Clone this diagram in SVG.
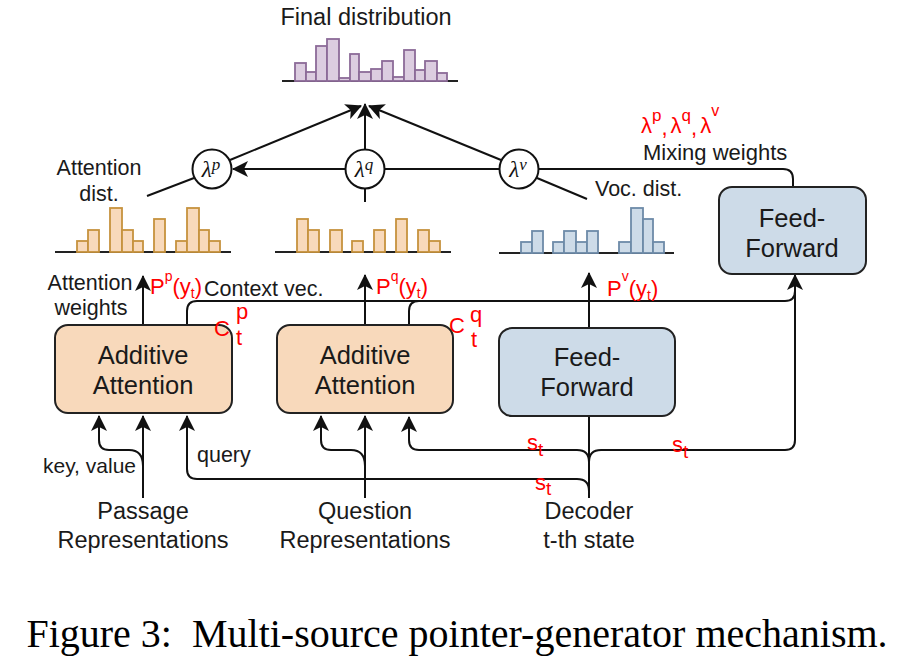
<svg xmlns="http://www.w3.org/2000/svg" width="914" height="656" viewBox="0 0 914 656">
<style>
.t{font-family:"Liberation Sans",Arial,sans-serif;fill:#1a1a1a}
.box{stroke:#222;stroke-width:2}
.pe{fill:#f8d9bb}
.bl{fill:#cddbe8}
.ln{fill:none;stroke:#111;stroke-width:2}
.ax{stroke:#222;stroke-width:2}
.ho rect{fill:#f8d9bb;stroke:#c6923e;stroke-width:1.8}
.hb rect{fill:#cddbe8;stroke:#6d8aa8;stroke-width:1.8}
.hp rect{fill:#dccde0;stroke:#8c6b98;stroke-width:1.8}
.lam{fill:#fff;stroke:#111;stroke-width:2}
.lt{font-family:"Liberation Serif","Times New Roman",serif;font-style:italic;font-size:23px;fill:#111}
.red{font-family:"Liberation Sans",Arial,sans-serif;fill:#f00;font-size:22px}
</style>
<defs>
<marker id="arr" viewBox="0 0 16 16" refX="15" refY="8" markerWidth="16" markerHeight="16" markerUnits="userSpaceOnUse" orient="auto">
<path d="M0,0 L16,8 L0,16 L4,8 z" fill="#111"/>
</marker>
</defs>
<rect width="914" height="656" fill="#fff"/>

<g id="final-dist">
<text class="t" x="366" y="25" font-size="23.5" text-anchor="middle">Final distribution</text>
<line class="ax" x1="282" y1="81" x2="458" y2="81"/>
<g class="hp">
<rect x="295" y="63" width="11" height="18"/>
<rect x="306" y="72" width="10" height="9"/>
<rect x="316" y="46" width="11" height="35"/>
<rect x="327" y="39" width="12" height="42"/>
<rect x="339" y="78" width="11" height="3"/>
<rect x="350" y="54" width="9" height="27"/>
<rect x="359" y="72" width="12" height="9"/>
<rect x="371" y="69" width="11" height="12"/>
<rect x="382" y="61" width="11" height="20"/>
<rect x="393" y="77" width="11" height="4"/>
<rect x="404" y="50" width="11" height="31"/>
<rect x="415" y="70" width="10" height="11"/>
<rect x="425" y="61" width="12" height="20"/>
<rect x="437" y="73" width="10" height="8"/>
</g>
</g>

<g id="attention-dist">
<text class="t" x="99" y="175" font-size="21.5" text-anchor="middle">Attention</text>
<text class="t" x="99" y="201" font-size="21.5" text-anchor="middle">dist.</text>
<line class="ax" x1="55" y1="252" x2="231" y2="252"/>
<g class="ho">
<rect x="77" y="241" width="11" height="11"/>
<rect x="88" y="230" width="11" height="22"/>
<rect x="110" y="208" width="12" height="44"/>
<rect x="122" y="230" width="11" height="22"/>
<rect x="133" y="241" width="10" height="11"/>
<rect x="154" y="219" width="11" height="33"/>
<rect x="176" y="241" width="11" height="11"/>
<rect x="187" y="208" width="12" height="44"/>
<rect x="199" y="230" width="10" height="22"/>
<rect x="209" y="241" width="11" height="11"/>
</g>
</g>

<g id="question-dist">
<line class="ax" x1="275" y1="252" x2="451" y2="252"/>
<g class="ho">
<rect x="297" y="219" width="11" height="33"/>
<rect x="308" y="230" width="11" height="22"/>
<rect x="330" y="230" width="12" height="22"/>
<rect x="352" y="241" width="11" height="11"/>
<rect x="374" y="230" width="11" height="22"/>
<rect x="396" y="219" width="11" height="33"/>
<rect x="418" y="230" width="11" height="22"/>
<rect x="429" y="241" width="11" height="11"/>
</g>
</g>

<g id="voc-dist">
<text class="t" x="595" y="196" font-size="21.5">Voc. dist.</text>
<line class="ax" x1="499" y1="253" x2="674" y2="253"/>
<g class="hb">
<rect x="521" y="242" width="11" height="11"/>
<rect x="532" y="231" width="11" height="22"/>
<rect x="553" y="242" width="11" height="11"/>
<rect x="564" y="231" width="12" height="22"/>
<rect x="576" y="242" width="11" height="11"/>
<rect x="587" y="231" width="11" height="22"/>
<rect x="619" y="242" width="12" height="11"/>
<rect x="631" y="208" width="12" height="45"/>
<rect x="643" y="219" width="10" height="34"/>
<rect x="653" y="242" width="11" height="11"/>
</g>
</g>

<g id="connectors">
<path class="ln" d="M345,169 L233,169" marker-end="url(#arr)"/>
<path class="ln" d="M385,169 L499,169"/>
<path class="ln" d="M539,169 L783,169 Q793,169 793,179 L793,187"/>
<path class="ln" d="M230,160 L361,106" marker-end="url(#arr)"/>
<path class="ln" d="M365,149 L365,104" marker-end="url(#arr)"/>
<path class="ln" d="M501,160 L369,106" marker-end="url(#arr)"/>
<path class="ln" d="M194,178 L147,196"/>
<path class="ln" d="M537,178 L587,199"/>
<path class="ln" d="M365,189 L365,202"/>

<path class="ln" d="M143,325 L143,276" marker-end="url(#arr)"/>
<path class="ln" d="M365,325 L365,275" marker-end="url(#arr)"/>
<path class="ln" d="M589,328 L589,273" marker-end="url(#arr)"/>
<path class="ln" d="M187,325 L187,311 Q187,301 197,301 L785,301 Q795,301 795,291"/>
<path class="ln" d="M409,325 L409,311 Q409,301 419,301"/>

<path class="ln" d="M589,498 L589,416"/>
<path class="ln" d="M589,462 Q589,450 577,450 L419,450 Q409,450 409,440 L409,417" marker-end="url(#arr)"/>
<path class="ln" d="M589,462 Q589,450 601,450 L785,450 Q795,450 795,440 L795,275" marker-end="url(#arr)"/>
<path class="ln" d="M589,491 Q589,479 577,479 L197,479 Q187,479 187,469 L187,416" marker-end="url(#arr)"/>

<path class="ln" d="M143,498 L143,416" marker-end="url(#arr)"/>
<path class="ln" d="M143,466 Q143,450 129,450 L109,450 Q99,450 99,440 L99,416" marker-end="url(#arr)"/>
<path class="ln" d="M365,498 L365,416" marker-end="url(#arr)"/>
<path class="ln" d="M365,466 Q365,450 351,450 L331,450 Q321,450 321,440 L321,416" marker-end="url(#arr)"/>
</g>

<g id="lambda-p">
<circle class="lam" cx="212" cy="169" r="19.5"/>
<text class="lt" x="211" y="177" text-anchor="middle">λ<tspan dy="-7" font-size="17">p</tspan></text>
</g>
<g id="lambda-q">
<circle class="lam" cx="365" cy="169" r="19.5"/>
<text class="lt" x="364" y="177" text-anchor="middle">λ<tspan dy="-7" font-size="17">q</tspan></text>
</g>
<g id="lambda-v">
<circle class="lam" cx="519" cy="169" r="19.5"/>
<text class="lt" x="518" y="177" text-anchor="middle">λ<tspan dy="-7" font-size="17">v</tspan></text>
</g>

<g id="mixing-label">
<text class="t" x="643" y="160" font-size="22">Mixing weights</text>
</g>

<g id="ff-top">
<rect class="box bl" x="719" y="187" width="147" height="87" rx="13"/>
<text class="t" x="792" y="227" font-size="25.5" text-anchor="middle">Feed-</text>
<text class="t" x="792" y="257" font-size="25.5" text-anchor="middle">Forward</text>
</g>

<g id="attn-labels">
<text class="t" x="90" y="290" font-size="21.5" text-anchor="middle">Attention</text>
<text class="t" x="91" y="315" font-size="21.5" text-anchor="middle">weights</text>
<text class="t" x="204" y="296" font-size="21.5">Context vec.</text>
</g>

<g id="add-attn-p">
<rect class="box pe" x="55" y="325" width="177" height="88" rx="13"/>
<text class="t" x="143" y="364" font-size="25.5" text-anchor="middle">Additive</text>
<text class="t" x="143" y="394" font-size="25.5" text-anchor="middle">Attention</text>
</g>
<g id="add-attn-q">
<rect class="box pe" x="277" y="325" width="176" height="88" rx="13"/>
<text class="t" x="365" y="364" font-size="25.5" text-anchor="middle">Additive</text>
<text class="t" x="365" y="394" font-size="25.5" text-anchor="middle">Attention</text>
</g>
<g id="ff-bottom">
<rect class="box bl" x="499" y="328" width="176" height="88" rx="13"/>
<text class="t" x="587" y="366" font-size="25.5" text-anchor="middle">Feed-</text>
<text class="t" x="587" y="396" font-size="25.5" text-anchor="middle">Forward</text>
</g>

<g id="input-labels">
<text class="t" x="43" y="473" font-size="21">key, value</text>
<text class="t" x="197" y="462" font-size="21.5">query</text>
</g>

<g id="passage">
<text class="t" x="143" y="519" font-size="23.5" text-anchor="middle">Passage</text>
<text class="t" x="143" y="548" font-size="23.5" text-anchor="middle">Representations</text>
</g>
<g id="question">
<text class="t" x="365" y="519" font-size="23.5" text-anchor="middle">Question</text>
<text class="t" x="365" y="548" font-size="23.5" text-anchor="middle">Representations</text>
</g>
<g id="decoder">
<text class="t" x="589" y="519" font-size="23.5" text-anchor="middle">Decoder</text>
<text class="t" x="589" y="548" font-size="23.5" text-anchor="middle">t-th state</text>
</g>

<g id="annotations">
<text class="red" x="641" y="133" font-size="24">λ<tspan dy="-12" font-size="17">p</tspan><tspan dy="14">,</tspan><tspan dx="3" dy="-2">λ</tspan><tspan dy="-12" font-size="17">q</tspan><tspan dy="14">,</tspan><tspan dx="3" dy="-2">λ</tspan><tspan dy="-17" font-size="16">v</tspan></text>
<text class="red" x="150" y="294" font-size="21">P<tspan dy="-13" font-size="14">p</tspan><tspan dy="13">(y</tspan><tspan dy="4" font-size="14">t</tspan><tspan dy="-4">)</tspan></text>
<text class="red" x="376" y="294" font-size="21">P<tspan dy="-13" font-size="14">q</tspan><tspan dy="13">(y</tspan><tspan dy="4" font-size="14">t</tspan><tspan dy="-4">)</tspan></text>
<text class="red" x="607" y="296" font-size="21">P<tspan dy="-15" font-size="14">v</tspan><tspan dy="15">(y</tspan><tspan dy="4" font-size="14">t</tspan><tspan dy="-4">)</tspan></text>
<text class="red" x="214" y="336" font-size="26">C</text>
<text class="red" x="236" y="319" font-size="16">p</text>
<text class="red" x="236" y="345" font-size="16">t</text>
<text class="red" x="449" y="333" font-size="22">C</text>
<text class="red" x="470" y="322" font-size="16">q</text>
<text class="red" x="471" y="347" font-size="17">t</text>
<text class="red" x="527" y="450" font-size="21">s<tspan dy="6" font-size="19">t</tspan></text>
<text class="red" x="672" y="452" font-size="21">s<tspan dy="6" font-size="19">t</tspan></text>
<text class="red" x="535" y="490" font-size="21">s<tspan dy="5" font-size="19">t</tspan></text>
</g>

<g id="caption">
<text x="457" y="647" font-family="'Liberation Serif','Times New Roman',serif" font-size="40" text-anchor="middle" fill="#000" xml:space="preserve">Figure 3:  Multi-source pointer-generator mechanism.</text>
</g>
</svg>
